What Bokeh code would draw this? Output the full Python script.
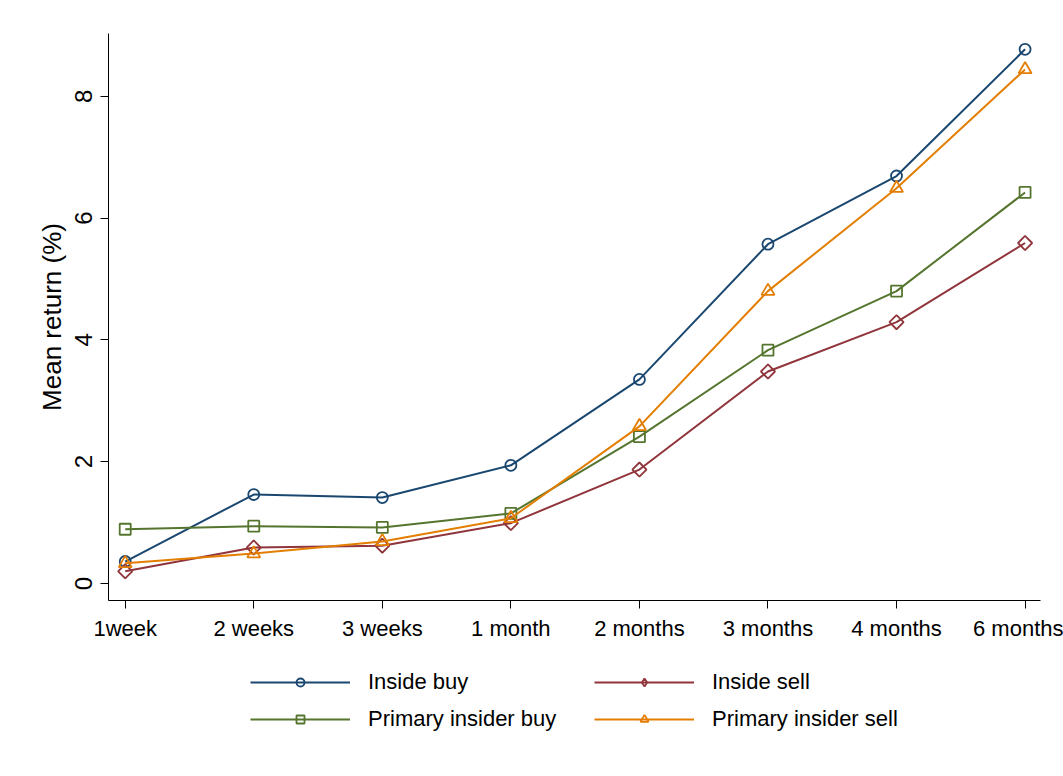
import math
from bokeh.plotting import figure
from bokeh.layouts import column
from bokeh.models import FixedTicker, Legend, LegendItem, Range1d
from bokeh.embed import file_html
from bokeh.resources import INLINE

periods = ["1week", "2 weeks", "3 weeks", "1 month", "2 months", "3 months", "4 months", "6 months"]
inside_buy = [0.36, 1.46, 1.41, 1.94, 3.35, 5.57, 6.69, 8.77]
inside_sell = [0.20, 0.59, 0.62, 0.99, 1.87, 3.48, 4.29, 5.59]
primary_buy = [0.89, 0.94, 0.92, 1.15, 2.41, 3.83, 4.80, 6.42]
primary_sell = [0.33, 0.49, 0.69, 1.07, 2.58, 4.80, 6.49, 8.44]
y_ticks = [0, 2, 4, 6, 8]

x = list(range(len(periods)))
FONT = "Liberation Sans"

p = figure(width=1063, height=650, output_backend="svg", toolbar_location=None,
           x_range=Range1d(-0.13, 7.12), y_range=Range1d(-0.28, 9.03),
           min_border_left=108, min_border_right=23, min_border_top=33, min_border_bottom=50)
p.outline_line_color = None
p.xgrid.visible = False
p.ygrid.visible = False

p.xaxis.ticker = FixedTicker(ticks=x)
p.xaxis.major_label_overrides = {i: s for i, s in enumerate(periods)}
p.yaxis.ticker = FixedTicker(ticks=y_ticks)
p.yaxis.major_label_orientation = "vertical"
p.yaxis.axis_label = "Mean return (%)"
for ax in (p.xaxis[0], p.yaxis[0]):
    ax.axis_line_color = "black"
    ax.major_tick_line_color = "black"
    ax.minor_tick_line_color = None
    ax.major_tick_out = 8
    ax.major_tick_in = 0
    ax.major_label_text_font = FONT
    ax.major_label_text_font_size = "22px"
    ax.major_label_text_color = "black"
    ax.axis_label_text_font = FONT
    ax.axis_label_text_font_size = "26px"
    ax.axis_label_text_font_style = "normal"
    ax.axis_label_text_color = "black"
p.yaxis.major_label_text_font_size = "24px"
p.yaxis.axis_label_standoff = 6
p.yaxis.major_label_standoff = 8
p.xaxis.major_label_standoff = 7

# name, values, colour, plot marker, size, angle, legend marker, legend size
series = [
    ("Inside buy", inside_buy, "#1a476f", "circle", 11, 0, "circle", 10),
    ("Inside sell", inside_sell, "#90353b", "square", 10, math.pi / 4, "diamond", 14),
    ("Primary insider buy", primary_buy, "#55752f", "square", 11, 0, "square", 10),
    ("Primary insider sell", primary_sell, "#e37e00", "triangle", 13, 0, "triangle", 12),
]

# legend panel below the chart
lf = figure(width=1063, height=126, output_backend="svg", toolbar_location=None,
            x_range=Range1d(0, 1), y_range=Range1d(0, 1), x_axis_type=None, y_axis_type=None,
            min_border=0)
lf.outline_line_color = None
lf.xgrid.visible = False
lf.ygrid.visible = False

items = {}
for name, vals, color, marker, size, angle, lmarker, lsize in series:
    p.line(x, vals, line_color=color, line_width=2)
    p.scatter(x, vals, marker=marker, size=size, angle=angle, fill_color="white", fill_alpha=0,
              line_color=color, line_width=1.8)
    # off-screen proxies so the legend panel can show each series' glyph
    l1 = lf.line([-5, -4], [-5, -4], line_color=color, line_width=2)
    l2 = lf.scatter([-5], [-5], marker=lmarker, size=lsize, fill_color="white", fill_alpha=0,
                    line_color=color, line_width=1.8)
    items[name] = LegendItem(label=name, renderers=[l1, l2])

legend = Legend(items=[items["Inside buy"], items["Primary insider buy"],
                       items["Inside sell"], items["Primary insider sell"]],
                nrows=2, location=(142, 44), orientation="vertical")
legend.border_line_color = None
legend.background_fill_alpha = 0
legend.glyph_width = 100
legend.glyph_height = 20
legend.label_standoff = 18
legend.label_width = 215
legend.label_height = 20
legend.spacing = 11
legend.padding = 5
legend.label_text_font = FONT
legend.label_text_font_size = "22px"
legend.label_text_color = "black"
legend.margin = 0
lf.add_layout(legend, "center")

open("out.html", "w").write(file_html(column(p, lf, spacing=0), INLINE))
